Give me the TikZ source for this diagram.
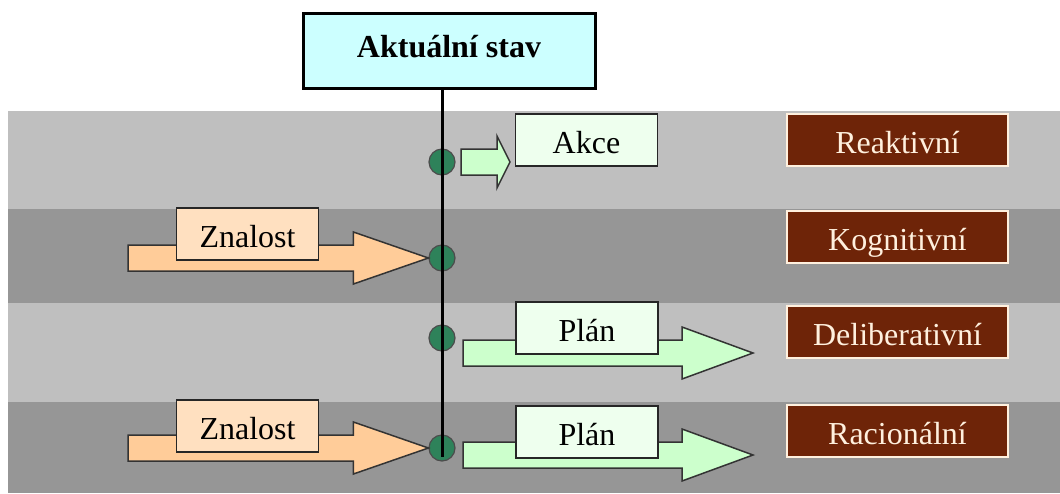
\documentclass[tikz,border=0pt]{standalone}
\usepackage{fontspec}
\setmainfont{Liberation Serif}
\usepackage{tikz}
\usetikzlibrary{calc}
\usetikzlibrary{positioning}

\definecolor{bandlight}{RGB}{191,191,191}
\definecolor{banddark}{RGB}{150,150,150}
\definecolor{stavfill}{RGB}{204,255,255}
\definecolor{peach}{RGB}{255,204,153}
\definecolor{peachlight}{RGB}{255,224,192}
\definecolor{mint}{RGB}{204,255,204}
\definecolor{mintlight}{RGB}{238,255,238}
\definecolor{brownbg}{RGB}{110,36,8}
\definecolor{cream}{RGB}{255,240,222}
\definecolor{dotgreen}{RGB}{46,130,90}

% fat block arrow: style, tail, tip, head length
\newcommand\fatarrow[4]{%
  \draw[#1] let \p1=(#2), \p2=(#3) in
    (\x1,\y2+13pt) -- (\x2-#4,\y2+13pt) -- (\x2-#4,\y2+26pt) -- (\x2,\y2)
    -- (\x2-#4,\y2-26pt) -- (\x2-#4,\y2-13pt) -- (\x1,\y2-13pt) -- cycle;}

\begin{document}
\begin{tikzpicture}[x=1pt, y=-1pt,
    every node/.style={font=\fontsize{32}{38}\selectfont, inner sep=0pt},
    lbl/.style={draw=black!85, line width=1.5pt, minimum width=142pt, minimum height=52pt,
        text height=30pt, text depth=3pt},
    typ/.style={fill=brownbg, draw=cream, line width=1.5pt, text=cream,
        minimum width=221pt, minimum height=52pt, text height=30pt, text depth=3pt},
    dot/.style={circle, fill=dotgreen, draw=black!70, line width=1.2pt, minimum size=26pt}]
    \useasboundingbox (0,0) rectangle (1060,493);
    \foreach \t/\b/\c in {111/209/bandlight, 209/303/banddark, 303/402/bandlight, 402/493/banddark}
        \fill[\c] (8,\t) rectangle (1060,\b);

    \node[dot] (c1) at (442,162) {};
    \node[dot] (c2) at (442,258) {};
    \node[dot] (c3) at (442,338) {};
    \node[dot] (c4) at (442,448) {};

    \coordinate (z1) at (128,258);
    \coordinate (z2) at (128,448);
    \coordinate (a1) at (461,162);
    \coordinate (a2) at (510,162);
    \coordinate (p1) at (463,353);
    \coordinate (q1) at (753,353);
    \coordinate (p2) at (463,455);
    \coordinate (q2) at (753,455);
    \fatarrow{fill=peach, draw=black!80, line width=1.5pt}{z1}{c2.west}{75pt}
    \fatarrow{fill=peach, draw=black!80, line width=1.5pt}{z2}{c4.west}{75pt}
    \fatarrow{fill=mint, draw=black!80, line width=1.5pt}{a1}{a2}{13pt}
    \fatarrow{fill=mint, draw=black!80, line width=1.5pt}{p1}{q1}{71pt}
    \fatarrow{fill=mint, draw=black!80, line width=1.5pt}{p2}{q2}{71pt}

    \node[lbl, fill=peachlight] (zn1) at (247.5,234) {Znalost};
    \node[lbl, fill=peachlight] (zn2) at (247.5,426) {Znalost};
    \node[lbl, fill=mintlight] (akce) at (586.5,140) {Akce};
    \node[lbl, fill=mintlight] (pl1) at (587,328) {Plán};
    \node[lbl, fill=mintlight] (pl2) at (587,432) {Plán};

    \node[draw=black, line width=3pt, fill=stavfill, minimum width=292pt, minimum height=75pt,
        text height=21pt, text depth=8pt, font=\fontsize{32}{38}\selectfont\bfseries] (stav) at (449,50.5) {Aktuální stav};
    \coordinate (end) at (442,457);
    \draw[line width=3pt] (stav.south -| end) -- (end);

    \node[typ] (reak) at (897.5,140) {Reaktivní};
    \node[typ] (kogn) at (897.5,237) {Kognitivní};
    \node[typ] (delib) at (897.5,332) {Deliberativní};
    \node[typ] (rac) at (897.5,431) {Racionální};
\end{tikzpicture}
\end{document}
